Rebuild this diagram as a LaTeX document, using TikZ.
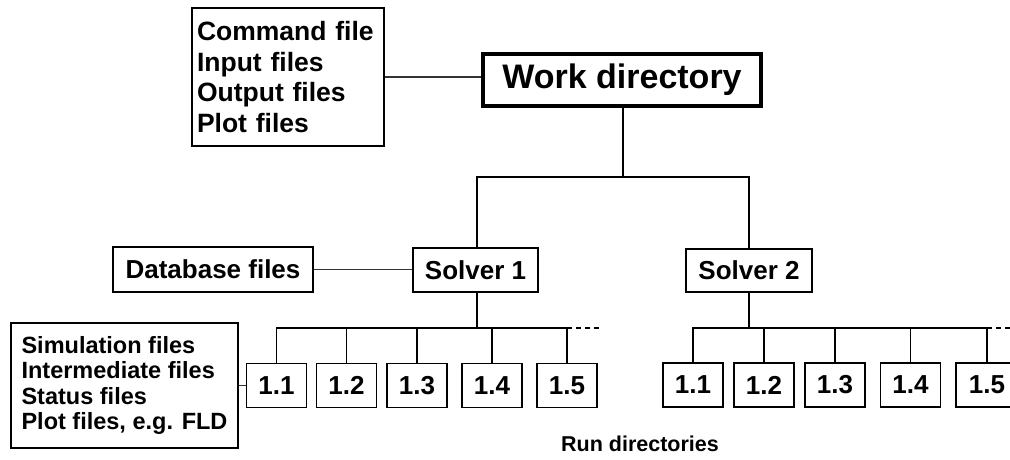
\documentclass[tikz,border=0pt]{standalone}
\usepackage{fontspec}
\setmainfont{Liberation Sans}
\begin{document}
\begin{tikzpicture}[x=1pt,y=-1pt,
  box/.style={draw, line width=1.6pt, inner sep=0pt, font=\bfseries\fontsize{26}{30}\selectfont},
  runbox/.style={box, minimum width=60pt, minimum height=44pt},
  conn/.style={line width=1.6pt},
  thin/.style={line width=1.2pt, black!80},
  dashconn/.style={line width=1.6pt, dash pattern=on 5pt off 4pt}]
\useasboundingbox (0,0) rectangle (1010,459);
\node[box, minimum width=192pt, minimum height=138pt, text width=182pt, align=left, font=\bfseries\fontsize{26.5}{30.5}\selectfont] (cmd) at (288,77) {Command file\\Input files\\Output files\\Plot files};
\node[box, line width=3.8pt, minimum width=278pt, minimum height=52pt, font=\bfseries\fontsize{34}{40}\selectfont] (work) at (622,80) {Work directory};
\node[box, minimum width=125pt, minimum height=44pt] (s1) at (475.5,270) {Solver 1};
\node[box, minimum width=126pt, minimum height=43pt] (s2) at (749,270.5) {Solver 2};
\node[box, minimum width=200pt, minimum height=45pt] (db) at (213,269.5) {Database files};
\node[box, minimum width=227pt, minimum height=125pt, align=left, font=\bfseries\fontsize{23.5}{25.5}\selectfont] (sim) at (124.5,385.5) {Simulation files\\Intermediate files\\Status files\\Plot files, e.g. FLD};
\node[runbox] (a1) at (276.5,385.5) {1.1};
\node[runbox] (a2) at (346.5,385.5) {1.2};
\node[runbox] (a3) at (417,385.5) {1.3};
\node[runbox] (a4) at (492,385.5) {1.4};
\node[runbox] (a5) at (567,385.5) {1.5};
\node[runbox] (b1) at (693,385) {1.1};
\node[runbox] (b2) at (764,385) {1.2};
\node[runbox] (b3) at (835,385) {1.3};
\node[runbox] (b4) at (910.5,385) {1.4};
\node[runbox, minimum width=62pt] (b5) at (987,385) {1.5};
\node[font=\bfseries\fontsize{21.5}{26}\selectfont] (rd) at (640,444) {Run directories};
\coordinate (wj) at (623,177);
\coordinate (j1) at (477,328);
\coordinate (j2) at (749,328);
\coordinate (d1) at (600,328);
\coordinate (d2) at (1010,328);
\draw[thin] (cmd.east) -- (cmd.east -| work.west);
\draw[conn] (work.south -| wj) -- (wj);
\draw[conn] (s1.north -| j1) |- (wj) -| (s2.north);
\draw[thin] (db.east) -- (db.east -| s1.west);
\draw[conn] (s1.south -| j1) -- (j1);
\draw[conn] (s2.south) -- (j2);
\draw[thin] (sim.east) -- (a1.west);
\draw[conn] (a1.north) |- (j1) -| (a5.north);
\draw[conn] (a2.north) -- (a2.north |- j1);
\draw[conn] (a3.north) -- (a3.north |- j1);
\draw[conn] (a4.north) -- (a4.north |- j1);
\draw[dashconn] (j1 -| a5) -- (d1);
\draw[conn] (b1.north) |- (j2) -| (b5.north);
\draw[conn] (b2.north) -- (b2.north |- j2);
\draw[conn] (b3.north) -- (b3.north |- j2);
\draw[conn] (b4.north) -- (b4.north |- j2);
\draw[dashconn] (j2 -| b5) -- (d2);
\end{tikzpicture}
\end{document}
